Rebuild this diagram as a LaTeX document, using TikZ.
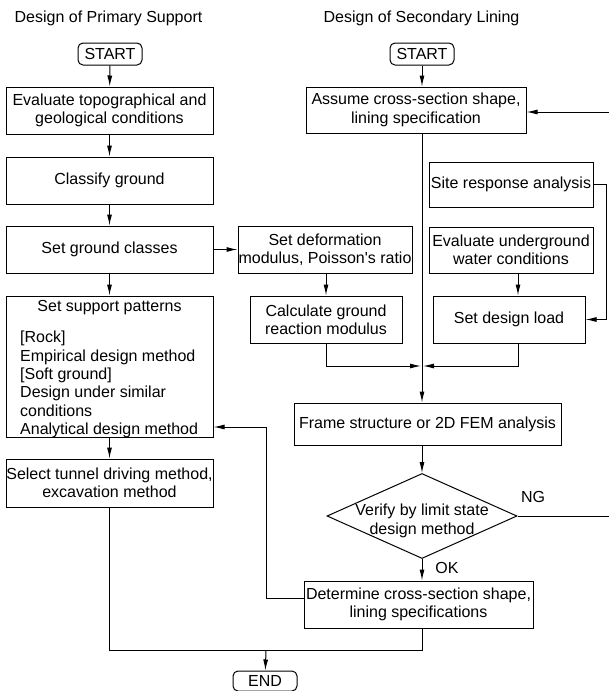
\documentclass[tikz,border=0pt]{standalone}
\usepackage{fontspec}
\setmainfont{Liberation Sans}
\usetikzlibrary{arrows.meta,shapes.geometric}
\begin{document}
\begin{tikzpicture}[x=1pt,y=-1pt,
  every node/.style={font=\fontsize{16}{18.3}\selectfont},
  box/.style={draw, line width=1pt, inner sep=0pt, align=center},
  term/.style={draw, line width=1pt, rounded corners=5pt, inner sep=0pt, minimum width=64pt, minimum height=22pt},
  dec/.style={draw, diamond, line width=1pt, inner sep=0pt, minimum width=190pt, minimum height=85pt},
  plain/.style={inner sep=0pt, align=center},
  conn/.style={line width=1pt},
  arr/.style={conn, -{Latex[length=11pt,width=5pt]}},
]
\useasboundingbox (0,0) rectangle (609,691);

% titles
\node[plain] (t1) at (108.5,18) {Design of Primary Support};
\node[plain] (t2) at (421.5,18) {Design of Secondary Lining};

% left column
\node[term] (sL) at (110,54) {START};
\node[box, minimum width=207pt, minimum height=47pt] (eval) at (109.5,110.5) {Evaluate topographical and\\geological conditions};
\node[box, minimum width=207pt, minimum height=47pt] (class) at (109.5,180.5) {Classify ground};
\node[box, minimum width=207pt, minimum height=47pt] (setc) at (109.5,249.5) {Set ground classes};
\node[box, minimum width=207pt, minimum height=141pt] (supp) at (109.5,366.5) {};
\node[plain] (supt) at (109.5,308) {Set support patterns};
\node[plain, align=left, anchor=north west] (supb) at (20,331) {{[Rock]}\\{}Empirical design method\\{}[Soft ground]\\Design under similar\\conditions\\Analytical design method};
\node[box, minimum width=207pt, minimum height=48pt] (sel) at (109.5,483) {Select tunnel driving method,\\excavation method};

% middle column
\node[box, minimum width=174pt, minimum height=47pt] (def) at (325,249.5) {Set deformation\\modulus, Poisson\textquotesingle s ratio};
\node[box, minimum width=152pt, minimum height=47pt] (calc) at (326,319.5) {Calculate ground\\reaction modulus};

% right column
\node[term] (sR) at (422,54) {START};
\node[box, minimum width=220pt, minimum height=46pt] (ass) at (416,110) {Assume cross-section shape,\\lining specification};
\node[box, minimum width=164pt, minimum height=45pt] (site) at (511,184.5) {Site response analysis};
\node[box, minimum width=164pt, minimum height=46pt] (wat) at (511,250) {Evaluate underground\\water conditions};
\node[box, minimum width=152pt, minimum height=47pt] (load) at (509,319.5) {Set design load};
\node[box, minimum width=267pt, minimum height=42pt] (frame) at (427.5,424) {Frame structure or 2D FEM analysis};
\node[dec] (dia) at (422,516) {};
\node[plain] (diat) at (422,521) {Verify by limit state\\design method};
\node[box, minimum width=229pt, minimum height=47pt] (det) at (418.5,604.5) {Determine cross-section shape,\\lining specifications};
\node[term, minimum height=20pt] (end) at (265,681) {END};

\node[plain] (ng) at (533,497) {NG};
\node[plain] (ok) at (447,568) {OK};

% coordinates
\coordinate (mj) at (422,366);
\coordinate (bj) at (266,650);
\coordinate (wx) at (518,0);
\coordinate (ay) at (0,112);
\coordinate (dy) at (0,598);
\coordinate (sy) at (0,427);

% left chain
\draw[arr] (sL) -- (eval);
\draw[arr] (eval) -- (class);
\draw[arr] (class) -- (setc);
\draw[arr] (setc) -- (supp);
\draw[arr] (supp) -- (sel);
\draw[arr] (setc) -- (def);
\draw[arr] (def.south -| calc) -- (calc);

% right chain
\draw[arr] (sR) -- (sR |- ass.north);
\draw[arr] (ass.south -| mj) -- (frame.north -| mj);
\draw[arr] (calc.south) |- ([xshift=-1pt]mj);
\draw[arr] (load.south -| wx) |- ([xshift=1pt]mj);
\draw[arr] (wat.south -| wx) -- (load.north -| wx);
\draw[arr] (site.east) -- (606,184.5) |- (load.east);
\draw[arr] (frame.south -| dia) -- (dia.north);
\draw[arr] (dia.east) -- (612,516) |- (ass.east |- ay);
\draw[arr] (dia.south) -- (det.north -| dia);
\draw[arr] (det.west |- dy) -| (266,598) |- (supp.east |- sy);

% end
\draw[conn] (sel.south) |- (bj);
\draw[conn] (det.south -| dia) |- (bj);
\draw[arr] (bj) -- (end);
\end{tikzpicture}
\end{document}
